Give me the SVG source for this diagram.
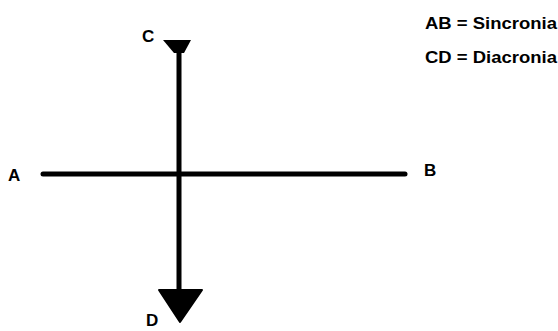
<svg xmlns="http://www.w3.org/2000/svg" width="558" height="331" viewBox="0 0 558 331">
<style>
.lbl{font-family:"Liberation Sans",Arial,sans-serif;font-weight:bold;font-size:17px;fill:#000}
.ln{stroke:#000;stroke-width:5;stroke-linecap:round;fill:none}
</style>
<rect width="558" height="331" fill="#fff"/>
<g id="connectors">
<line class="ln" x1="43" y1="174" x2="405" y2="174"/>
<line class="ln" x1="179" y1="50" x2="179" y2="292"/>
<path d="M163,40 L191,40 L184,53 L174,53 Z" fill="#000"/>
<path d="M159,290 L202,290 L180,322 Z" fill="#000" stroke="#000" stroke-width="2" stroke-linejoin="round"/>
</g>
<g id="node-A"><text class="lbl" x="8" y="181">A</text></g>
<g id="node-B"><text class="lbl" x="424" y="176">B</text></g>
<g id="node-C"><text class="lbl" x="142" y="42">C</text></g>
<g id="node-D"><text class="lbl" x="146" y="326">D</text></g>
<g id="legend">
<text class="lbl" x="425" y="29" textLength="132" lengthAdjust="spacingAndGlyphs">AB = Sincronia</text>
<text class="lbl" x="425" y="63" textLength="132" lengthAdjust="spacingAndGlyphs">CD = Diacronia</text>
</g>
</svg>
